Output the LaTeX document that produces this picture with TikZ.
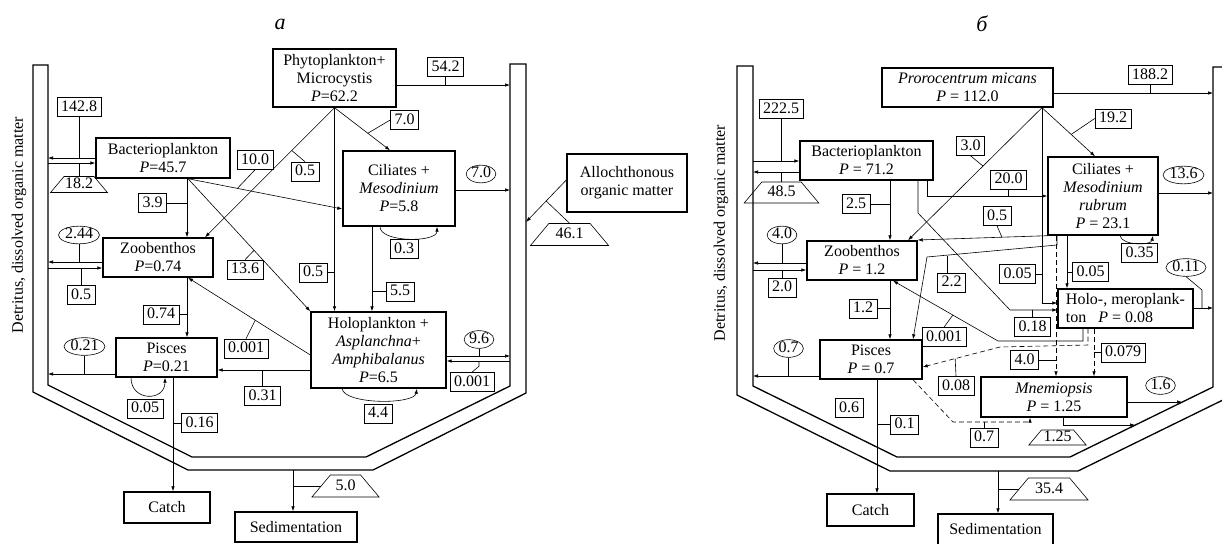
\documentclass[tikz,border=0pt]{standalone}
\usepackage{fontspec}
\setmainfont{Liberation Serif}
\usetikzlibrary{arrows.meta,shapes.geometric,calc}

\tikzset{
  box/.style={draw, line width=1.4pt, align=center, inner sep=1pt},
  val/.style={draw, line width=0.6pt, inner xsep=4pt, inner ysep=2pt, text height=11.5pt, text depth=3.5pt},
  oval/.style={draw, ellipse, line width=0.6pt, inner xsep=0.5pt, inner ysep=0pt, text height=10pt, text depth=2.5pt},
  loss/.style={draw, trapezium, trapezium angle=50, line width=0.6pt, inner xsep=1pt, inner ysep=1pt, text height=11pt, text depth=3pt},
  flow/.style={line width=0.6pt, -{Latex[length=5pt,width=3.5pt]}},
  dflow/.style={flow, dash pattern=on 5pt off 3pt},
  tick/.style={line width=0.6pt},
  wall/.style={line width=1.3pt},
}

\begin{document}
\begin{tikzpicture}[x=1pt,y=-1pt,font=\fontsize{16}{18}\selectfont]
\useasboundingbox (0,0) rectangle (1222,543);

% ---------------- panel a ----------------
\node[font=\fontsize{22}{24}\selectfont\itshape] (titA) at (280,24) {a};
\draw[wall] (33,65) -- (33,392) -- (188,470) -- (373,470) -- (526,393) -- (526,64)
  -- (510,64) -- (510,386) -- (366,457) -- (192,457) -- (48,385) -- (48,65) -- cycle;
\coordinate (wLa) at (48,0);
\coordinate (wRa) at (510,0);
\coordinate (wRaO) at (526,0);
\coordinate (sedTopA) at (293,470);
\node[rotate=90] (detA) at (19,225) {Detritus, dissolved organic matter};

\node[box, minimum width=123pt, minimum height=58pt] (phyA) at (334.5,78) {Phytoplankton+\\Microcystis\\\textit{P}=62.2};
\node[box, minimum width=134pt, minimum height=40pt] (bactA) at (163,158) {Bacterioplankton\\\textit{P}=45.7};
\node[box, minimum width=112pt, minimum height=75pt] (cilA) at (399,188.5) {Ciliates +\\\textit{Mesodinium}\\\textit{P}=5.8};
\node[box, minimum width=110pt, minimum height=39pt] (zooA) at (158,257.5) {Zoobenthos\\\textit{P}=0.74};
\node[box, minimum width=135pt, minimum height=76pt] (holoA) at (378.5,350) {Holoplankton +\\\textit{Asplanchna}+\\\textit{Amphibalanus}\\\textit{P}=6.5};
\node[box, minimum width=101pt, minimum height=39pt] (pisA) at (166.5,357.5) {Pisces\\\textit{P}=0.21};
\node[box, minimum width=86pt, minimum height=31pt] (catchA) at (167,507.5) {Catch};
\node[box, minimum width=122pt, minimum height=30pt] (sedA) at (296,527) {Sedimentation};
\node[box, minimum width=120pt, minimum height=58pt] (alloA) at (627,183) {Allochthonous\\organic matter};

\node[val] (v1428) at (79,107) {142.8};
\node[loss] (l182) at (79,184.5) {18.2};
\node[val] (v39) at (152.5,203) {3.9};
\node[val] (v100) at (255,160) {10.0};
\node[val] (v05a) at (305,171.5) {0.5};
\node[val] (v70) at (404.5,120) {7.0};
\node[val] (v542) at (445.5,67) {54.2};
\node[oval] (o70) at (481,174) {7.0};
\node[val] (v03) at (404,249) {0.3};
\node[val] (v55) at (400,291.5) {5.5};
\node[val] (v05b) at (313,272.5) {0.5};
\node[val] (v136) at (245,269.5) {13.6};
\node[oval] (o244) at (79,235) {2.44};
\node[val] (v05c) at (81,295) {0.5};
\node[val] (v074) at (161,314.5) {0.74};
\node[val] (v0001) at (246,348.5) {0.001};
\node[val] (v031) at (262.5,396) {0.31};
\node[oval] (o021) at (84.5,346.5) {0.21};
\node[val] (v005) at (145,408.5) {0.05};
\node[val] (v016) at (199.5,423) {0.16};
\node[oval] (o96) at (479,339.5) {9.6};
\node[val] (v0001r) at (472,382) {0.001};
\node[val] (v44) at (378,413.5) {4.4};
\node[loss, minimum height=22pt] (l461) at (569.5,234.5) {46.1};
\node[loss, minimum height=22pt] (l50) at (345.5,486) {5.0};

\draw[flow] (bactA.west |- 0,158) -- (wLa |- 0,158);
\draw[flow] (wLa |- 0,163) -- (bactA.west |- 0,163);
\draw[tick] (v1428.south) -- (v1428.south |- 0,158);
\draw[tick] (l182.north) -- (l182.north |- 0,163);
\draw[flow] (bactA.south -| 187,0) -- (zooA.north -| 187,0);
\draw[tick] (v39.east) -- (v39.east -| 187,0);
\draw[flow] (bactA.south -| 188,0) -- (cilA.west |- 0,209);
\draw[tick] (v100.south) -- ($(bactA.south -| 188,0)!0.32!(cilA.west |- 0,209)$);
\draw[flow] (bactA.south -| 188,0) -- (holoA.north west);
\draw[tick] (v136.north) -- ($(bactA.south -| 188,0)!0.54!(holoA.north west)$);
\draw[flow] (phyA.south) -- (zooA.north -| 205,0);
\draw[tick] (v05a.north) -- ($(phyA.south)!0.33!(zooA.north -| 205,0)$);
\draw[flow] (phyA.south) -- (holoA.north -| phyA.south);
\draw[tick] (v05b.east) -- (v05b.east -| phyA.south);
\draw[flow] (phyA.south) -- (cilA.north -| 390,0);
\draw[tick] (v70.west) -- ($(phyA.south)!0.6!(cilA.north -| 390,0)$);
\draw[flow] (phyA.east |- 0,85) -- (wRa |- 0,85);
\draw[tick] (v542.south) -- (v542.south |- 0,85);
\draw[flow] (cilA.east |- 0,190) -- (wRa |- 0,190);
\draw[flow] (cilA.south -| 380,0) .. controls +(0,16) and +(0,16) .. (cilA.south -| 437,0);
\draw[flow] (cilA.south -| 372,0) -- (holoA.north -| 372,0);
\draw[tick] (v55.west) -- (v55.west -| 372,0);
\draw[flow] (alloA.west |- 0,180) -- (wRaO |- 0,222);
\draw[tick] ($(alloA.west |- 0,180)!0.5!(wRaO |- 0,222)$) -- (l461.north);
\draw[flow] (holoA.east |- 0,356) -- (wRa |- 0,356);
\draw[tick] (o96.south) -- (o96.south |- 0,356);
\draw[flow] (wRa |- 0,361) -- (holoA.east |- 0,361);
\draw[tick] (v0001r.north) -- ++(7,-6) -- ++(0,-4);
\draw[flow] (holoA.south -| 342,0) .. controls +(3,16) and +(-3,16) .. (holoA.south -| 417,0);
\draw[flow] (holoA.west |- 0,355) -- (zooA.south -| 188,0);
\draw[tick] (v0001.north) -- ($(holoA.west |- 0,355)!0.45!(zooA.south -| 188,0)$);
\draw[flow] (holoA.west |- 0,370) -- (pisA.east |- 0,370);
\draw[tick] (v031.north) -- (v031.north |- 0,370);
\draw[flow] (zooA.south -| 187,0) -- (pisA.north -| 187,0);
\draw[tick] (v074.east) -- (v074.east -| 187,0);
\draw[flow] (zooA.west |- 0,262) -- (wLa |- 0,262);
\draw[flow] (wLa |- 0,268) -- (zooA.west |- 0,268);
\draw[tick] (o244.south) -- (o244.south |- 0,262);
\draw[tick] (v05c.north) -- (v05c.north |- 0,268);
\draw[flow] (pisA.west |- 0,374) -- (wLa |- 0,374);
\draw[tick] (o021.south) -- (o021.south |- 0,374);
\draw[flow] (pisA.south -| 131,0) .. controls +(0,24) and +(0,24) .. (pisA.south -| 165,0);
\draw[flow] (pisA.south -| 173,0) -- (catchA.north -| 173,0);
\draw[tick] (v016.west) -- (v016.west -| 173,0);
\draw[flow] (sedTopA) -- (sedA.north -| sedTopA);
\draw[tick] (l50.west -| sedTopA) -- (l50.west);

% ---------------- panel b ----------------
\node[font=\fontsize{22}{24}\selectfont\itshape] (titB) at (982,24) {б};
\draw[wall] (737,66) -- (737,395) -- (890,471) -- (1078,471) -- (1229,397) -- (1229,67)
  -- (1213,67) -- (1213,387) -- (1070,457) -- (897,457) -- (753,386) -- (753,66) -- cycle;
\coordinate (wLb) at (753,0);
\coordinate (wRb) at (1213,0);
\coordinate (sedTopB) at (998,471);
\coordinate (wMn) at (1182,402);
\coordinate (wMn2) at (1135,425);
\node[rotate=90] (detB) at (721,233) {Detritus, dissolved organic matter};

\node[box, minimum width=171pt, minimum height=39pt] (proB) at (967.5,87.5) {\textit{Prorocentrum micans}\\\textit{P} = 112.0};
\node[box, minimum width=133pt, minimum height=39pt] (bactB) at (866.5,160.5) {Bacterioplankton\\\textit{P} = 71.2};
\node[box, minimum width=110pt, minimum height=78pt] (cilB) at (1103,196) {Ciliates +\\\textit{Mesodinium}\\\textit{rubrum}\\\textit{P} = 23.1};
\node[box, minimum width=110pt, minimum height=39pt] (zooB) at (862,260.5) {Zoobenthos\\\textit{P} = 1.2};
\node[box, minimum width=135pt, minimum height=39pt, align=left] (holoB) at (1125.5,308.5) {Holo-, meroplank-\\ton \ \ \textit{P} = 0.08};
\node[box, minimum width=102pt, minimum height=39pt] (pisB) at (871,359.5) {Pisces\\\textit{P} = 0.7};
\node[box, minimum width=146pt, minimum height=40pt] (mnemB) at (1054,397) {\textit{Mnemiopsis}\\\textit{P} = 1.25};
\node[box, minimum width=87pt, minimum height=32pt] (catchB) at (870.5,510) {Catch};
\node[box, minimum width=115pt, minimum height=31pt] (sedB) at (995.5,529.5) {Sedimentation};

\node[val] (v2225) at (781,109) {222.5};
\node[loss, minimum height=21pt] (l485) at (781.5,192.5) {48.5};
\node[val] (v25) at (856,204) {2.5};
\node[val] (v30) at (970.5,146) {3.0};
\node[val] (v200) at (1008.5,179.5) {20.0};
\node[val] (v05d) at (997,216) {0.5};
\node[val] (v1882) at (1150,75) {188.2};
\node[val] (v192) at (1113,118.5) {19.2};
\node[oval] (o136) at (1183.5,175) {13.6};
\node[val] (v035) at (1139.5,253) {0.35};
\node[oval] (o40) at (782,235) {4.0};
\node[val] (v20) at (782,287.5) {2.0};
\node[val] (v22) at (951.5,282.5) {2.2};
\node[val] (v005l) at (1017.5,274) {0.05};
\node[val] (v005r) at (1090.5,272) {0.05};
\node[oval] (o011) at (1186,267.5) {0.11};
\node[val] (v018) at (1032.5,327) {0.18};
\node[val] (v12) at (863,308.5) {1.2};
\node[val] (v0001b) at (944,337) {0.001};
\node[oval] (o07) at (788.5,348.5) {0.7};
\node[val] (v40) at (1024.5,360) {4.0};
\node[val] (v0079) at (1123,352.5) {0.079};
\node[val] (v008) at (956,386) {0.08};
\node[val] (v06) at (849,408) {0.6};
\node[val] (v01) at (904.5,424.5) {0.1};
\node[val] (v07) at (984,437.5) {0.7};
\node[oval] (o16) at (1160.5,385.5) {1.6};
\node[loss, minimum height=15pt, inner ysep=0pt] (l125) at (1057.5,437.5) {1.25};
\node[loss, minimum height=22pt] (l354) at (1049,489) {35.4};

\draw[flow] (wLb |- 0,161) -- (bactB.west |- 0,161);
\draw[flow] (bactB.west |- 0,172) -- (wLb |- 0,172);
\draw[tick] (v2225.south) -- (v2225.south |- 0,161);
\draw[tick] (l485.north) -- (l485.north |- 0,172);
\draw[flow] (bactB.south -| 890,0) -- (zooB.north -| 890,0);
\draw[tick] (v25.east) -- (v25.east -| 890,0);
\draw[flow] (bactB.south -| 927,0) |- (cilB.west |- 0,196);
\draw[tick] (v200.south) -- (v200.south |- 0,196);
\draw[flow] (bactB.south -| 918,0) -- (918,213) -- (1010,310) -- (holoB.west |- 0,310);
\draw[tick] (v018.north) -- (v018.north |- 0,310);
\draw[flow] (proB.south -| 1042,0) |- (holoB.west |- 0,303);
\draw[tick] (v005l.east) -- (v005l.east -| 1042,0);
\draw[flow] (proB.south -| 1042,0) -- (cilB.north -| 1095,0);
\draw[tick] (v192.west) -- ($(proB.south -| 1042,0)!0.55!(cilB.north -| 1095,0)$);
\draw[flow] (proB.east |- 0,93) -- (wRb |- 0,93);
\draw[tick] (v1882.south) -- (v1882.south |- 0,93);
\draw[flow] (proB.south -| 1042,0) -- (zooB.north -| 908,0);
\draw[tick] (v30.south) -- ($(proB.south -| 1042,0)!0.44!(zooB.north -| 908,0)$);
\draw[flow] (cilB.east |- 0,193) -- (wRb |- 0,193);
\draw[flow] (cilB.south -| 1120,0) .. controls +(2,10) and +(-2,10) .. (cilB.south -| 1153,0);
\draw[flow] (cilB.south -| 1067,0) -- (holoB.north -| 1067,0);
\draw[tick] (v005r.west) -- (v005r.west -| 1067,0);
\draw[dflow] (cilB.south -| 1056,0) -- (mnemB.north -| 1056,0);
\draw[tick] (v40.east) -- (v40.east -| 1056,0);
\draw[flow] (cilB.south west) -- (zooB.east |- 0,240);
\draw[tick] (v05d.south) -- ($(cilB.south west)!0.35!(zooB.east |- 0,240)$);
\draw[flow] (cilB.south -| 1057,0) -- (1057,245) -- (927,257) -- (pisB.north -| 913,0);
\draw[tick] (v22.north -| 947,0) -- (947,256);
\draw[flow] (holoB.south -| 1083,0) |- (998,341) -- (zooB.south -| 893,0);
\draw[tick] (v0001b.north) -- ($(998,341)!0.43!(zooB.south -| 893,0)$);
\draw[dflow] (holoB.south -| 1088,0) -- (1088,345) -- (1000,347) -- (pisB.east |- 0,367);
\draw[tick] (v008.north) -- ($(1000,347)!0.58!(pisB.east |- 0,367)$);
\draw[dflow] (holoB.south -| 1094,0) -- (mnemB.north -| 1094,0);
\draw[tick] (v0079.west) -- (v0079.west -| 1094,0);
\draw[dflow] (pisB.south -| 913,0) -- (953,422) -- (1030,422) -- (mnemB.south -| 1030,0);
\draw[tick] (v07.north) -- (v07.north |- 0,422);
\draw[flow] (pisB.west |- 0,376) -- (wLb |- 0,376);
\draw[tick] (o07.south) -- (o07.south |- 0,376);
\draw[flow] (zooB.south -| 890,0) -- (pisB.north -| 890,0);
\draw[tick] (v12.east) -- (v12.east -| 890,0);
\draw[flow] (pisB.south -| 877,0) -- (catchB.north -| 877,0);
\draw[tick] (v01.west) -- (v01.west -| 877,0);
\draw[flow] (zooB.west |- 0,263) -- (wLb |- 0,263);
\draw[flow] (wLb |- 0,270) -- (zooB.west |- 0,270);
\draw[tick] (o40.south) -- (o40.south |- 0,263);
\draw[tick] (v20.north) -- (v20.north |- 0,270);
\draw[flow] (holoB.east |- 0,308) -- (wRb |- 0,308);
\draw[tick] (o011.south) -- (1202,290) -- (1202,308);
\draw[flow] (mnemB.east |- 0,402) -- (wMn);
\draw[flow] (mnemB.south -| 1063,0) |- (wMn2);
\draw[flow] (sedTopB) -- (sedB.north -| sedTopB);
\draw[tick] (l354.west -| sedTopB) -- (l354.west);
\end{tikzpicture}
\end{document}
